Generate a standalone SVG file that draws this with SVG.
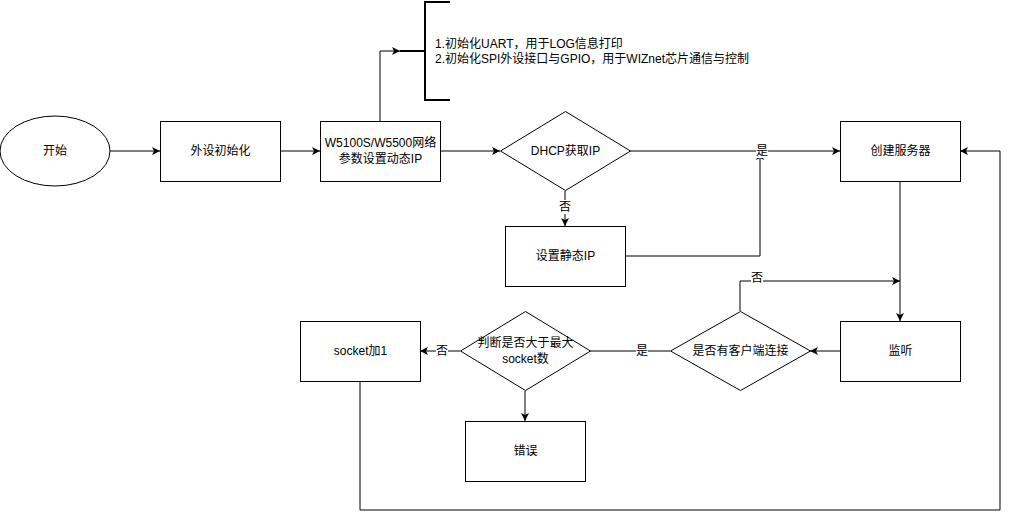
<svg xmlns="http://www.w3.org/2000/svg" width="1009" height="520" viewBox="0 0 1009 520">
<style>
.n{fill:#fff;stroke:#000;stroke-width:1}
.t{font-family:"Liberation Sans","Noto Sans CJK SC",sans-serif;font-size:12px;fill:#000;text-anchor:middle;dominant-baseline:central}
.tl{font-family:"Liberation Sans","Noto Sans CJK SC",sans-serif;font-size:12px;fill:#000;dominant-baseline:central}
.e{fill:none;stroke:#000;stroke-width:1}
.ea{fill:none;stroke:#000;stroke-width:1;marker-end:url(#arr)}
.lb{fill:#fff}
</style>
<defs>
<marker id="arr" viewBox="0 0 10 10" refX="10" refY="5" markerWidth="8" markerHeight="8" markerUnits="userSpaceOnUse" orient="auto">
<path d="M0,0 L10,5 L0,10 L2.5,5 Z" fill="#000"/>
</marker>
</defs>
<rect width="1009" height="520" fill="#fff"/>
<g id="connectors">
<path class="ea" d="M110,151 H160"/>
<path class="ea" d="M280,151 H320"/>
<path class="ea" d="M380,121 V51 H400"/>
<path class="ea" d="M440,151 H500"/>
<path class="ea" d="M630,151 H840"/>
<path class="ea" d="M565,191 V226"/>
<path class="ea" d="M625,256 H760 V152"/>
<path class="ea" d="M900,181 V321"/>
<path class="ea" d="M840,351 H810"/>
<path class="ea" d="M740,311 V281 H900"/>
<path class="e" d="M670,351 H590"/>
<path class="ea" d="M460,351 H420"/>
<path class="ea" d="M525,391 V421"/>
<path class="ea" d="M360,381 V510 H1000 V151 H960"/>
<rect class="lb" x="756" y="144" width="12" height="14"/>
<text class="t" x="762" y="151">是</text>
<rect class="lb" x="559" y="200" width="12" height="14"/>
<text class="t" x="565" y="207">否</text>
<rect class="lb" x="751" y="271" width="12" height="14"/>
<text class="t" x="757" y="278">否</text>
<rect class="lb" x="636" y="344" width="12" height="14"/>
<text class="t" x="642" y="351">是</text>
<rect class="lb" x="436" y="344" width="12" height="14"/>
<text class="t" x="442" y="351">否</text>
</g>
<g id="start"><ellipse class="n" cx="55" cy="151" rx="55" ry="35"/><text class="t" x="55" y="151">开始</text></g>
<g id="periph"><rect class="n" x="160.5" y="121.5" width="120" height="60"/><text class="t" x="220.5" y="151">外设初始化</text></g>
<g id="w5100"><rect class="n" x="320.5" y="121.5" width="120" height="60"/><text class="t" x="380.5" y="143">W5100S/W5500网络</text><text class="t" x="380.5" y="159">参数设置动态IP</text></g>
<g id="note"><path d="M450,2 H425 V100 H450 M400,51 H425" fill="none" stroke="#000" stroke-width="2"/><text class="tl" x="435" y="44">1.初始化UART，用于LOG信息打印</text><text class="tl" x="435" y="59">2.初始化SPI外设接口与GPIO，用于WIZnet芯片通信与控制</text></g>
<g id="dhcp"><path class="n" d="M565.5,111.5 L630.5,151 L565.5,190.5 L500.5,151 Z"/><text class="t" x="565.5" y="151">DHCP获取IP</text></g>
<g id="static"><rect class="n" x="505.5" y="226.5" width="120" height="60"/><text class="t" x="565.5" y="256">设置静态IP</text></g>
<g id="server"><rect class="n" x="840.5" y="121.5" width="120" height="60"/><text class="t" x="900.5" y="151">创建服务器</text></g>
<g id="listen"><rect class="n" x="840.5" y="321.5" width="120" height="60"/><text class="t" x="900.5" y="351">监听</text></g>
<g id="client"><path class="n" d="M740.5,311.5 L810.5,351 L740.5,390.5 L670.5,351 Z"/><text class="t" x="740.5" y="351">是否有客户端连接</text></g>
<g id="judge"><path class="n" d="M525.5,311.5 L590.5,351 L525.5,390.5 L460.5,351 Z"/><text class="t" x="525.5" y="343">判断是否大于最大</text><text class="t" x="525.5" y="359">socket数</text></g>
<g id="sockadd"><rect class="n" x="300.5" y="321.5" width="120" height="60"/><text class="t" x="360.5" y="351">socket加1</text></g>
<g id="error"><rect class="n" x="465.5" y="421.5" width="120" height="60"/><text class="t" x="525.5" y="451">错误</text></g>
</svg>
